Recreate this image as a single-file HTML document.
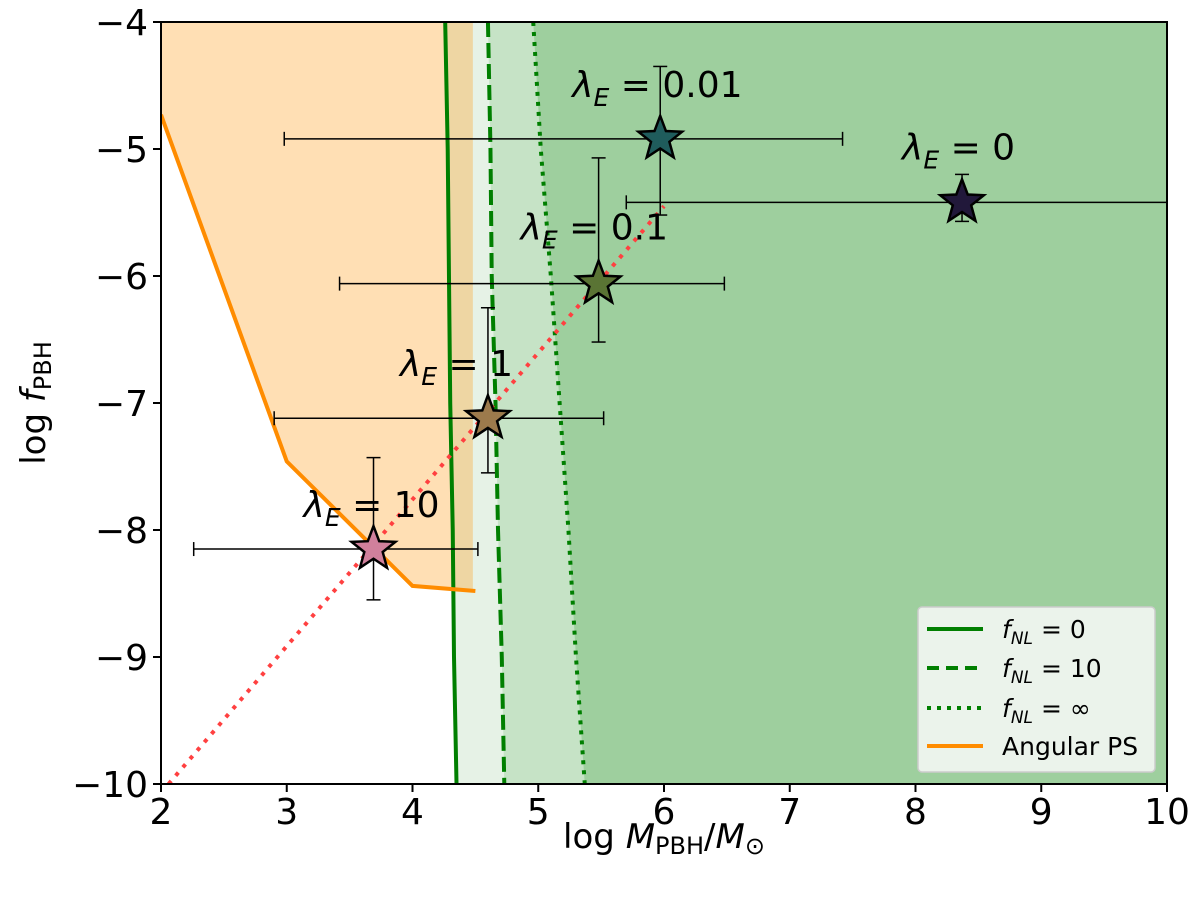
<!DOCTYPE html>
<html><head><meta charset="utf-8"><style>
html,body{margin:0;padding:0;background:#fff;}
svg{display:block;font-family:"DejaVu Sans","Liberation Sans",sans-serif;}
</style></head><body>
<svg id="chart" width="1200" height="900" viewBox="0 0 1200 900">
<defs><clipPath id="plotclip"><rect x="161" y="22" width="1006" height="762"/></clipPath></defs>
<g id="fills" clip-path="url(#plotclip)"></g>
<g id="lines" clip-path="url(#plotclip)"></g>
<g id="points"></g>
<g id="axes"></g>
<g id="legend"></g>
</svg>
<script>
const fY = [-4, -5, -6, -7, -8, -9, -10];
const solidX = [4.26, 4.28, 4.29, 4.30, 4.32, 4.33, 4.35];
const dashedX = [4.60, 4.62, 4.63, 4.66, 4.68, 4.71, 4.73];
const dottedX = [4.96, 5.02, 5.10, 5.17, 5.24, 5.30, 5.37];
const angX = [2, 3, 4, 4.5];
const angY = [-4.73, -7.46, -8.44, -8.48];
const angFillEdge = 4.48;
const fitX = [2.06, 6.0];
const fitY = [-10, -5.45];
const ptNum = ["10", "1", "0.1", "0.01", "0"];
const ptX = [3.69, 4.60, 5.48, 5.97, 8.37];
const ptY = [-8.15, -7.12, -6.06, -4.92, -5.42];
const ptXlo = [2.26, 2.90, 3.42, 2.98, 5.70];
const ptXhi = [4.52, 5.52, 6.48, 7.42, 10.5];
const ptYlo = [-8.55, -7.55, -6.52, -5.52, -5.57];
const ptYhi = [-7.43, -6.25, -5.07, -4.35, -5.20];
const ptColors = ["#d0809c", "#9c7a4c", "#5a7434", "#1f5c5c", "#21183a"];
const xTicks = [2, 3, 4, 5, 6, 7, 8, 9, 10];
const yTicks = [-4, -5, -6, -7, -8, -9, -10];

const X0 = 161, X1 = 1167, Y0 = 22, Y1 = 784;
const sx = v => X0 + (v - 2) / 8 * (X1 - X0);
const sy = v => Y0 + (-4 - v) / 6 * (Y1 - Y0);
const NS = "http://www.w3.org/2000/svg";
function mk(tag, attrs, parent) { const e = document.createElementNS(NS, tag); for (const k in attrs) e.setAttribute(k, attrs[k]); parent.appendChild(e); return e; }
const fills = document.getElementById('fills'), lines = document.getElementById('lines'), pts = document.getElementById('points'), axes = document.getElementById('axes'), leg = document.getElementById('legend');

function regionRight(xs, color, name) {
  let d = 'M' + sx(xs[0]) + ',' + sy(fY[0]);
  for (let i = 1; i < xs.length; i++) d += ' L' + sx(xs[i]) + ',' + sy(fY[i]);
  d += ' L' + sx(10.5) + ',' + sy(-10) + ' L' + sx(10.5) + ',' + sy(-4) + 'Z';
  const p = mk('path', { d: d, fill: color }, fills);
  
  
}
regionRight(solidX, '#e6f2e6', 'region-fnl-0');
regionRight(dashedX, '#c6e3c6', 'region-fnl-10');
regionRight(dottedX, '#9ecf9e', 'region-fnl-inf');
{
  let d = 'M' + sx(angX[0]) + ',' + sy(angY[0]);
  for (let i = 1; i < angX.length; i++) d += ' L' + sx(Math.min(angX[i], angFillEdge)) + ',' + sy(angY[i]);
  d += ' L' + sx(angFillEdge) + ',' + sy(-4) + ' L' + sx(2) + ',' + sy(-4) + 'Z';
  const p = mk('path', { d: d, fill: '#ff9f1c', 'fill-opacity': 0.33 }, fills);
  
  
}
function polyline(xs, ys, attrs, name) {
  const p = mk('polyline', Object.assign({ points: xs.map((x, i) => sx(x) + ',' + sy(ys[i])).join(' '), fill: 'none' }, attrs), lines);
  
  
}
polyline(solidX, fY, { stroke: '#007f00', 'stroke-width': 4 }, 'line-fnl-0');
polyline(dashedX, fY, { stroke: '#007f00', 'stroke-width': 4, 'stroke-dasharray': '15,6' }, 'line-fnl-10');
polyline(dottedX, fY, { stroke: '#007f00', 'stroke-width': 4, 'stroke-dasharray': '4,6' }, 'line-fnl-inf');
polyline(angX, angY, { stroke: '#ff8c00', 'stroke-width': 4 }, 'line-angular-ps');
polyline(fitX, fitY, { stroke: '#ff4040', 'stroke-width': 4, 'stroke-dasharray': '4,7' }, 'fit-line');

function starPath(cx, cy, R) {
  const r = R * 0.42; let d = '';
  for (let i = 0; i < 10; i++) { const a = -Math.PI / 2 + i * Math.PI / 5; const rr = i % 2 ? r : R; d += (i ? 'L' : 'M') + (cx + rr * Math.cos(a)).toFixed(1) + ',' + (cy + rr * Math.sin(a)).toFixed(1); }
  return d + 'Z';
}
const labDx = [-70, -88, -78, -88, -60], labDy = [-32, -42, -44, -42, -43];
for (let i = 0; i < ptX.length; i++) {
  const g = mk('g', {}, pts);
  
  
  const cx = sx(ptX[i]), cy = sy(ptY[i]), xl = sx(ptXlo[i]), xh = Math.min(sx(ptXhi[i]), X1), yl = sy(ptYlo[i]), yh = sy(ptYhi[i]);
  const st = { stroke: '#000', 'stroke-width': 1.5 };
  mk('line', Object.assign({ x1: xl, y1: cy, x2: xh, y2: cy }, st), g);
  mk('line', Object.assign({ x1: cx, y1: yl, x2: cx, y2: yh }, st), g);
  mk('line', Object.assign({ x1: xl, y1: cy - 7, x2: xl, y2: cy + 7 }, st), g);
  if (ptXhi[i] <= 10) mk('line', Object.assign({ x1: xh, y1: cy - 7, x2: xh, y2: cy + 7 }, st), g);
  mk('line', Object.assign({ x1: cx - 7, y1: yl, x2: cx + 7, y2: yl }, st), g);
  mk('line', Object.assign({ x1: cx - 7, y1: yh, x2: cx + 7, y2: yh }, st), g);
  mk('path', { d: starPath(cx, cy, 23), fill: ptColors[i], stroke: '#000', 'stroke-width': 2.5, 'stroke-linejoin': 'miter' }, g);
  const t = mk('text', { x: cx + labDx[i], y: cy + labDy[i], 'font-size': 36 }, g);
  
  
  t.innerHTML = '<tspan font-style="italic">λ</tspan><tspan font-style="italic" font-size="25" dy="9">E</tspan><tspan dy="-9"> = ' + ptNum[i] + '</tspan>';
}

const frame = mk('rect', { x: X0, y: Y0, width: X1 - X0, height: Y1 - Y0, fill: 'none', stroke: '#000', 'stroke-width': 2 }, axes);


xTicks.forEach(v => {
  mk('line', { x1: sx(v), y1: Y1, x2: sx(v), y2: Y1 + 8, stroke: '#000', 'stroke-width': 2 }, axes);
  const t = mk('text', { x: sx(v), y: Y1 + 40, 'font-size': 36, 'text-anchor': 'middle' }, axes);
  
  
  t.textContent = v;
});
yTicks.forEach(v => {
  mk('line', { x1: X0 - 8, y1: sy(v), x2: X0, y2: sy(v), stroke: '#000', 'stroke-width': 2 }, axes);
  const t = mk('text', { x: X0 - 13, y: sy(v) + 13, 'font-size': 36, 'text-anchor': 'end' }, axes);
  
  
  t.textContent = '\u2212' + Math.abs(v);
});
const xt = mk('text', { x: 664, y: 848, 'font-size': 34, 'text-anchor': 'middle' }, axes);


xt.innerHTML = 'log <tspan font-style="italic">M</tspan><tspan font-size="24" dy="6">PBH</tspan><tspan dy="-6">/</tspan><tspan font-style="italic">M</tspan><tspan font-size="24" dy="6">⊙</tspan>';
const yt = mk('text', { x: 0, y: 0, 'font-size': 34, 'text-anchor': 'middle', transform: 'translate(45,403) rotate(-90)' }, axes);


yt.innerHTML = 'log <tspan font-style="italic">f</tspan><tspan font-size="24" dy="6">PBH</tspan>';

const lb = mk('rect', { x: 918, y: 607, width: 237, height: 165, rx: 4, fill: '#ebf3eb', stroke: '#cccccc', 'stroke-width': 1.5 }, leg);


const legNames = ['fnl-0', 'fnl-10', 'fnl-inf', 'angular-ps'];
const legVals = ['0', '10', '∞', ''];
const legStyle = [{ stroke: '#007f00' }, { stroke: '#007f00', 'stroke-dasharray': '12,7' }, { stroke: '#007f00', 'stroke-dasharray': '4,6' }, { stroke: '#ff8c00' }];
const legY = [629, 668, 708, 746];
for (let i = 0; i < 4; i++) {
  const g = mk('g', {}, leg);
  
  
  const y = legY[i];
  mk('line', Object.assign({ x1: 927, y1: y, x2: 983, y2: y, 'stroke-width': 4 }, legStyle[i]), g);
  const t = mk('text', { x: 1002, y: y + 9, 'font-size': 25 }, g);
  if (i < 3) t.innerHTML = '<tspan font-style="italic">f</tspan><tspan font-style="italic" font-size="17" dy="6">NL</tspan><tspan dy="-6"> = ' + legVals[i] + '</tspan>';
  else t.textContent = 'Angular PS';
}
</script>
</body></html>
